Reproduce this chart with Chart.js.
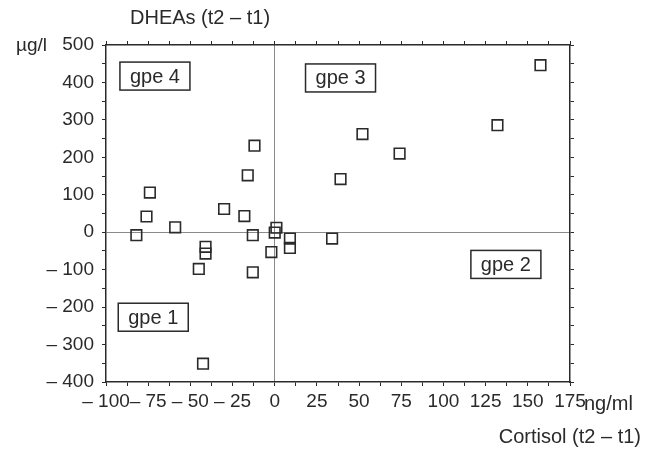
<!DOCTYPE html>
<html>
<head>
<meta charset="utf-8">
<script src="https://cdn.jsdelivr.net/npm/chart.js@4.4.1/dist/chart.umd.min.js"></script>
<style>
  html, body { margin: 0; padding: 0; background: #fff; }
  #wrap { width: 646px; height: 450px; }
</style>
</head>
<body>
<div id="wrap"><canvas id="scatterChart"></canvas></div>
<script>
// Cortisol (t2 - t1), ng/ml
const cortisol = [157.5, 132, 52, 74, 39, 34, 9, 9, 1, 0, -2, -12, -16, -18, -13, -13, -30, -41, -41, -45, -42.5, -59, -74, -76, -82];
// DHEAs (t2 - t1), µg/l
const dheas = [446, 286, 262, 210, 142, -17, -17, -42, 12, -1, -53, 231, 152, 43, -8, -107, 62, -39, -57, -98, -351, 13, 106, 42, -8];

const xTicks = [-100, -75, -50, -25, 0, 25, 50, 75, 100, 125, 150, 175];
const yTicks = [-400, -300, -200, -100, 0, 100, 200, 300, 400, 500];

const groupNames = ['gpe 4', 'gpe 3', 'gpe 2', 'gpe 1'];
const groupX = [-71, 39, 137, -72];
const groupY = [417, 412, -86, -227];

const ink = '#2a2a2a';
const fam = 'Liberation Sans, Arial, sans-serif';
const font = { family: fam, size: 19 };

function minusLabel(v) {
    return v < 0 ? '\u2013 ' + Math.abs(v) : String(v);
}

// group boxes + the free text around the axes
const extras = {
    id: 'extras',
    afterDatasetsDraw(chart) {
        const c = chart.ctx;
        const xs = chart.scales.x, ys = chart.scales.y;
        c.save();
        c.font = '20px ' + fam;
        c.strokeStyle = ink;
        c.lineWidth = 1.5;
        c.textAlign = 'center';
        c.textBaseline = 'middle';
        groupNames.forEach((name, i) => {
            const px = xs.getPixelForValue(groupX[i]);
            const py = ys.getPixelForValue(groupY[i]);
            const w = 70, h = 28;
            c.fillStyle = '#fff';
            c.fillRect(px - w / 2, py - h / 2, w, h);
            c.strokeRect(px - w / 2, py - h / 2, w, h);
            c.fillStyle = ink;
            c.fillText(name, px, py + 1);
        });
        c.font = '20px ' + fam;
        c.textAlign = 'left';
        c.fillText('DHEAs (t2 \u2013 t1)', 130, 18);
        c.fillText('ng/ml', 584, 404);
        c.textAlign = 'right';
        c.fillText('Cortisol (t2 \u2013 t1)', 641, 437);
        c.font = '19px ' + fam;
        c.textAlign = 'left';
        c.fillText('\u00b5g/l', 16, 46);
        c.restore();
    }
};

function axisGrid(zeroLine) {
    return {
        color: ctx => (zeroLine && ctx.tick && ctx.tick.value === 0) ? '#8a8a8a' : 'rgba(0,0,0,0)',
        lineWidth: 1,
        drawOnChartArea: zeroLine,
        tickColor: ink,
        tickLength: 4
    };
}

function halfTicks(list, step) {
    return list.flatMap((v, i) => i < list.length - 1 ? [{ value: v }, { value: v + step }] : [{ value: v }]);
}

const ctx = document.getElementById('scatterChart').getContext('2d');
const chart = new Chart(ctx, {
    type: 'scatter',
    data: {
        datasets: [{
            data: cortisol.map((x, i) => ({ x: x, y: dheas[i] })),
            pointStyle: 'rect',
            pointRadius: 7.5,
            pointHoverRadius: 7.5,
            pointBackgroundColor: 'rgba(255,255,255,0)',
            pointBorderColor: ink,
            pointBorderWidth: 1.6
        }]
    },
    options: {
        responsive: true,
        maintainAspectRatio: false,
        animation: false,
        layout: { padding: 0 },
        plugins: {
            legend: { display: false },
            tooltip: { enabled: false }
        },
        scales: {
            x: {
                type: 'linear',
                position: 'bottom',
                min: -100,
                max: 175,
                afterBuildTicks: s => { s.ticks = halfTicks(xTicks, 12.5); },
                afterFit: s => { s.height = 68; },
                border: { color: ink, width: 1.5 },
                grid: axisGrid(true),
                ticks: {
                    color: ink,
                    font: font,
                    padding: 4,
                    maxRotation: 0,
                    autoSkip: false,
                    callback: v => xTicks.includes(v) ? minusLabel(v) : ''
                }
            },
            x2: {
                type: 'linear',
                position: 'top',
                min: -100,
                max: 175,
                afterBuildTicks: s => { s.ticks = halfTicks(xTicks, 12.5); },
                afterFit: s => { s.height = 45; },
                border: { color: ink, width: 1.5 },
                grid: axisGrid(false),
                ticks: { display: false }
            },
            y: {
                type: 'linear',
                position: 'left',
                min: -400,
                max: 500,
                afterBuildTicks: s => { s.ticks = halfTicks(yTicks, 50); },
                afterFit: s => { s.width = 106; },
                border: { color: ink, width: 1.5 },
                grid: axisGrid(true),
                ticks: {
                    color: ink,
                    font: font,
                    padding: 8,
                    autoSkip: false,
                    callback: v => yTicks.includes(v) ? minusLabel(v) : ''
                }
            },
            y2: {
                type: 'linear',
                position: 'right',
                min: -400,
                max: 500,
                afterBuildTicks: s => { s.ticks = halfTicks(yTicks, 50); },
                afterFit: s => { s.width = 76; },
                border: { color: ink, width: 1.5 },
                grid: axisGrid(false),
                ticks: { display: false }
            }
        }
    },
    plugins: [extras]
});
</script>
</body>
</html>
